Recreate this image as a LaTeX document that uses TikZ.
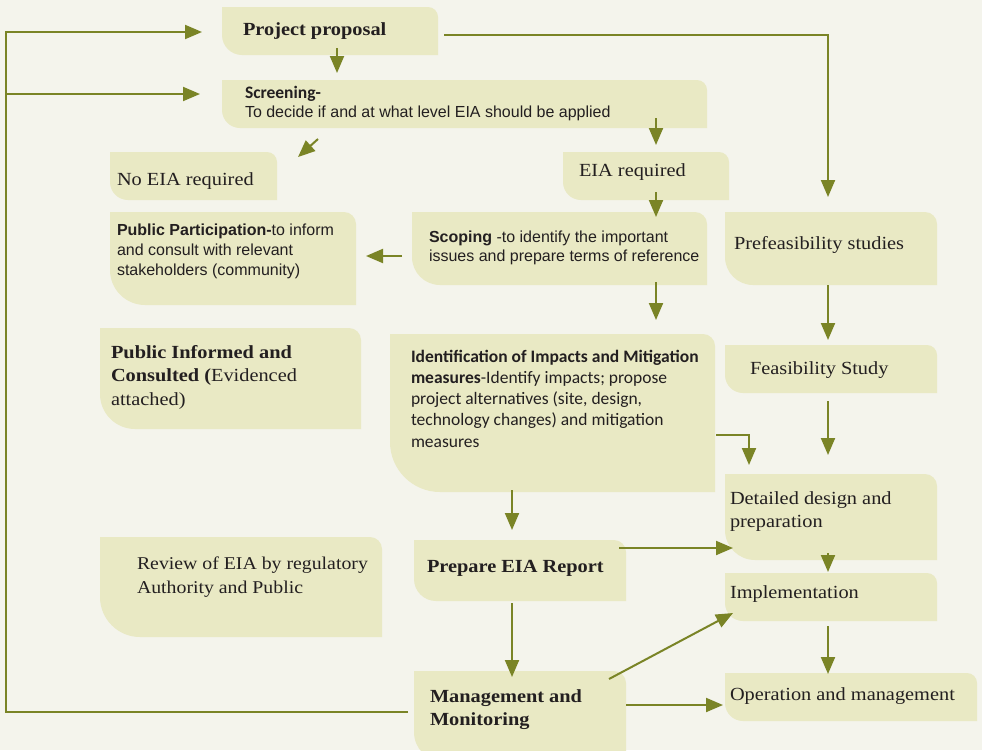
\documentclass[tikz,border=0pt]{standalone}
\usepackage{fontspec}
\setmainfont{Liberation Serif}[FakeStretch=1.1]
\newfontfamily\arialf{Liberation Sans}
\newfontfamily\calf{Carlito}
\usetikzlibrary{arrows.meta,calc}
\definecolor{bgc}{RGB}{244,244,236}
\definecolor{boxc}{RGB}{233,233,196}
\definecolor{olv}{RGB}{122,132,38}
\definecolor{ink}{RGB}{35,31,32}
% name, x1, y1, x2, y2, top-right radius, bottom-left radius
\newcommand\eiabox[7]{%
  \fill[boxc] (#2,#3) -- ({#4-#6},#3) .. controls ({#4-0.448*#6},#3) and (#4,{#3+0.448*#6}) .. (#4,{#3+#6})
     -- (#4,#5) -- ({#2+#7},#5) .. controls ({#2+0.448*#7},#5) and (#2,{#5-0.448*#7}) .. (#2,{#5-#7}) -- cycle;
  \node[inner sep=0pt, outer sep=0pt, minimum width={(#4-#2)*1pt}, minimum height={(#5-#3)*1pt}, anchor=north west] (#1) at (#2,#3) {};
}
\newcommand\tb[1]{\parbox[t]{380pt}{\raggedright #1}}
\tikzset{
  lbl/.style={anchor=base west, inner sep=0pt, outer sep=0pt, text=ink},
  serif/.style={font={\fontsize{18.5}{23.5}\selectfont}},
  arial/.style={font={\arialf\fontsize{16}{19}\selectfont}},
  calib/.style={font={\calf\fontsize{17.5}{21.3}\selectfont}},
  arr/.style={draw=olv, line width=2pt, -{Triangle[length=17pt,width=14pt]}},
}
\begin{document}
\begin{tikzpicture}[x=1pt,y=-1pt]
\useasboundingbox (0,0) rectangle (982,750);
\fill[bgc] (0,0) rectangle (982,750);
\begin{scope}
\clip (0,0) rectangle (982,750);
\eiabox{pp}{222}{7}{438}{55}{10}{20}
\eiabox{scr}{222}{80}{707}{128}{10}{18}
\eiabox{noeia}{110}{152}{277}{200}{10}{18}
\eiabox{eia}{563}{152}{729}{200}{10}{18}
\eiabox{scope}{412}{212}{707}{285}{12}{28}
\eiabox{ppart}{110}{212}{356}{305}{12}{35}
\eiabox{pref}{725}{212}{937}{285}{12}{28}
\eiabox{pic}{100}{328}{361}{429}{12}{35}
\eiabox{ident}{390}{334}{715}{492}{12}{50}
\eiabox{feas}{725}{345}{937}{393}{10}{18}
\eiabox{det}{725}{474}{937}{560}{12}{30}
\eiabox{prep}{414}{540}{626}{601}{12}{22}
\eiabox{impl}{725}{573}{937}{621}{10}{18}
\eiabox{review}{100}{537}{382}{637}{12}{40}
\eiabox{mgmt}{414}{671}{626}{762}{12}{30}
\eiabox{oper}{725}{673}{977}{721}{10}{18}
\end{scope}

% texts
\node[lbl,serif] (tpp) at (243,35) {\textbf{Project proposal}};
\node[lbl,arial] (tscr) at (245,98) {\tb{{\calf\fontsize{17.5}{19}\selectfont\bfseries Screening-}\\To decide if and at what level EIA should be applied}};
\node[lbl,serif] (tnoeia) at (117,185) {No EIA required};
\node[lbl,serif] (teia) at (579,176) {EIA required};
\node[lbl,arial] (tscope) at (429,242) {\tb{\textbf{Scoping} -to identify the important\\issues and prepare terms of reference}};
\node[lbl,arial,font={\arialf\fontsize{16}{20}\selectfont}] (tppart) at (117,235) {\tb{\textbf{Public Participation-}to inform\\and consult with relevant\\stakeholders (community)}};
\node[lbl,serif] (tpref) at (734,249) {Prefeasibility studies};
\node[lbl,serif] (tpic) at (111,358) {\tb{\textbf{Public Informed and}\\\textbf{Consulted (}Evidenced\\attached)}};
\node[lbl,calib] (tident) at (411,362) {\tb{\textbf{Identification of Impacts and Mitigation}\\\textbf{measures}-Identify impacts; propose\\project alternatives (site, design,\\technology changes) and mitigation\\measures}};
\node[lbl,serif] (tfeas) at (750,374) {Feasibility Study};
\node[lbl,serif] (tdet) at (730,504) {\tb{Detailed design and\\preparation}};
\node[lbl,serif] (tprep) at (427,572) {\textbf{Prepare EIA Report}};
\node[lbl,serif] (timpl) at (730,598) {Implementation};
\node[lbl,serif,font={\fontsize{18}{24}\selectfont}] (treview) at (137,569) {\tb{Review of EIA by regulatory\\Authority and Public}};
\node[lbl,serif] (tmgmt) at (430,702) {\tb{\textbf{Management and}\\\textbf{Monitoring}}};
\node[lbl,serif] (toper) at (730,700) {Operation and management};

% connectors
\draw[arr] ($(pp.south west)+(115,-7)$) -- ($(scr.north west)+(115,-7)$);
\draw[arr] ($(scr.south west)+(96,11)$) -- ($(noeia.north east)+(21,5)$);
\draw[arr] ($(scr.south east)+(-51,-10)$) -- ($(eia.north east)+(-73,-7)$);
\draw[arr] ($(eia.south east)+(-73,-8)$) -- ($(scope.north east)+(-51,5)$);
\draw[arr] ($(scope.west)+(-10,7.5)$) -- ($(ppart.east)+(10,-2.5)$);
\draw[arr] ($(scope.south east)+(-51,-3)$) -- ($(ident.north west)+(266,-14)$);
\draw[arr] ($(pp.east)+(6,4)$) -| ($(pref.north)+(-3,-15)$);
\draw[arr] ($(pref.south)+(-3,0)$) -- ($(feas.north)+(-3,-5)$);
\draw[arr] ($(feas.south)+(-3,8)$) -- ($(det.north)+(-3,-19)$);
\draw[arr] ($(ident.east)+(1,22)$) -| ($(det.north west)+(24,-9)$);
\draw[arr] ($(ident.south west)+(122,-2)$) -- ($(prep.north west)+(98,-10)$);
\draw[arr] ($(prep.north east)+(-7,8)$) -- ($(det.south west)+(8,-12)$);
\draw[arr] ($(det.south)+(-3,-7)$) -- ($(impl.north)+(-3,-1)$);
\draw[arr] ($(prep.south west)+(98,2)$) -- ($(mgmt.north west)+(98,6)$);
\draw[arr] ($(mgmt.north east)+(-17,8)$) -- ($(impl.south west)+(8,-8)$);
\draw[arr] ($(mgmt.north east)+(0,34)$) -- ($(oper.north west)+(-2,32)$);
\draw[arr] ($(impl.south)+(-3,5)$) -- ($(oper.north west)+(103,1)$);
% feedback loop
\coordinate (fbb) at (6,712);
\coordinate (fbt) at (6,32);
\coordinate (fbm) at (6,94);
\draw[arr] ($(mgmt.north west)+(-6,41)$) -- (fbb) -- (fbt) -- ($(pp.west)+(-20,1)$);
\draw[arr] (fbm) -- ($(scr.north west)+(-22,14)$);
\end{tikzpicture}
\end{document}
